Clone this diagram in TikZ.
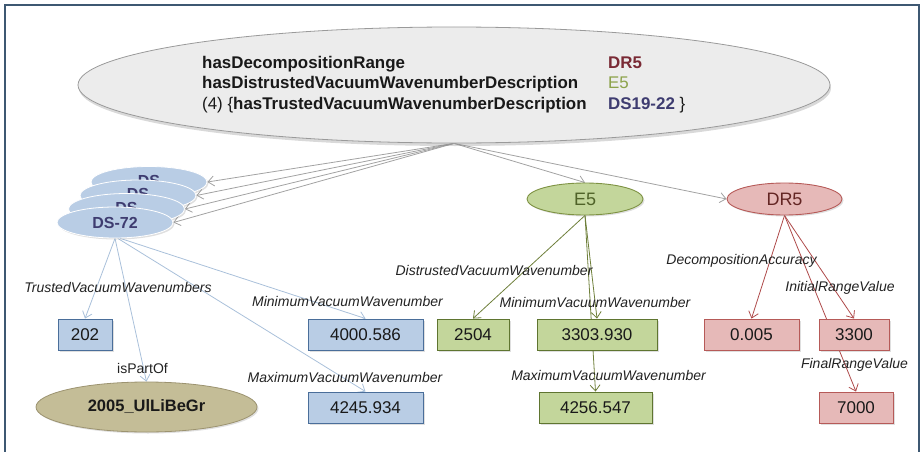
\documentclass[tikz,border=0pt]{standalone}
\usepackage{fontspec}
\setmainfont{Liberation Sans}
\usetikzlibrary{shapes.geometric,arrows.meta,shadows}
\definecolor{framec}{HTML}{3E5872}
\definecolor{mainfill}{HTML}{ECECEC}
\definecolor{mainline}{HTML}{9A9A9A}
\definecolor{drred}{HTML}{7A2A35}
\definecolor{egreen}{HTML}{8CA24A}
\definecolor{dsblue}{HTML}{3E3C70}
\definecolor{bluefill}{HTML}{B9CDE5}
\definecolor{blueline}{HTML}{4A6E9A}
\definecolor{blueedge}{HTML}{A9C0DA}
\definecolor{greenfill}{HTML}{C3D69B}
\definecolor{greenline}{HTML}{5F7530}
\definecolor{greenedge}{HTML}{6E7F3A}
\definecolor{greentext}{HTML}{4F6228}
\definecolor{pinkfill}{HTML}{E6B9B8}
\definecolor{pinkline}{HTML}{B65A58}
\definecolor{pinkedge}{HTML}{AE4A4A}
\definecolor{pinktext}{HTML}{632523}
\definecolor{olivefill}{HTML}{C4BD97}
\definecolor{oliveline}{HTML}{9C9370}
\definecolor{graye}{HTML}{A2A2A2}
\definecolor{labtext}{HTML}{222222}
\pgfdeclarelayer{edgelayer}
\pgfsetlayers{edgelayer,main}
\begin{document}
\begin{tikzpicture}[x=1pt,y=-1pt,
  shad/.style={drop shadow={opacity=0.25,shadow xshift=1.5pt,shadow yshift=-1.5pt}},
  box/.style={rectangle, minimum height=31pt, inner sep=0pt, text=black!90, font=\fontsize{17}{20}\selectfont, shad},
  bluebox/.style={box, fill=bluefill, draw=blueline, line width=0.9pt},
  greenbox/.style={box, fill=greenfill, draw=greenline, line width=0.9pt},
  pinkbox/.style={box, fill=pinkfill, draw=pinkline, line width=0.9pt},
  dsell/.style={ellipse, minimum width=116pt, minimum height=31pt, inner sep=0pt, fill=bluefill, draw=white, line width=0.8pt, text=dsblue, font=\fontsize{16}{18}\selectfont\bfseries, shad},
  mtext/.style={inner sep=0pt, font=\fontsize{16.9}{20}\selectfont\bfseries, text=black!90},
  lab/.style={inner sep=0pt, font=\fontsize{14}{16}\selectfont\itshape, text=labtext},
  arr/.style={-{Straight Barb[length=6pt,width=10pt]}, line width=0.8pt},
]
\useasboundingbox (0,0) rectangle (923,452);
\draw[framec, line width=2pt] (5,452) -- (5,5) -- (919,5) -- (919,452);

% main ellipse
\node[ellipse, minimum width=752pt, minimum height=116pt, fill=mainfill, draw=mainline, line width=0.8pt,
  drop shadow={opacity=0.3,shadow xshift=1pt,shadow yshift=-3pt}] (main) at (454,85) {};
\node[mtext, anchor=base west] (l1) at (202,68) {hasDecompositionRange};
\node[mtext, anchor=base west] (l2) at (202,88.5) {hasDistrustedVacuumWavenumberDescription};
\node[mtext, anchor=base west] (l3) at (202,109) {\mdseries(4) \{\bfseries hasTrustedVacuumWavenumberDescription};
\node[mtext, anchor=base west, text=drred] (r1) at (608,68) {DR5};
\node[mtext, anchor=base west, text=egreen, font=\fontsize{16.9}{20}\selectfont] (r2) at (608,88.5) {E5};
\node[mtext, anchor=base west] (r3) at (608,109) {\textcolor{dsblue}{DS19-22} \mdseries\}};

% DS stack
\node[dsell] (ds1) at (149,182) {\raisebox{3pt}{DS}};
\node[dsell] (ds2) at (138,195.5) {\raisebox{3pt}{DS}};
\node[dsell] (ds3) at (126.5,209) {\raisebox{3pt}{DS}};
\node[dsell] (ds4) at (115,222.5) {DS-72};

% E5, DR5
\node[ellipse, minimum width=116pt, minimum height=32pt, inner sep=0pt, fill=greenfill, draw=egreen!90!black, line width=0.9pt,
  text=greentext, font=\fontsize{18}{20}\selectfont, shad] (e5) at (585,199) {E5};
\node[ellipse, minimum width=115pt, minimum height=32pt, inner sep=0pt, fill=pinkfill, draw=pinkline, line width=0.9pt,
  text=pinktext, font=\fontsize{18}{20}\selectfont, shad] (dr5) at (784.5,199) {DR5};

% value boxes
\node[bluebox, minimum width=54pt] (b202) at (85,334.5) {202};
\node[bluebox, minimum width=115pt] (b4000) at (365.5,334.5) {4000.586};
\node[bluebox, minimum width=115pt] (b4245) at (365.5,407.5) {4245.934};
\node[ellipse, minimum width=221pt, minimum height=50pt, inner sep=0pt, fill=olivefill, draw=oliveline, line width=0.8pt,
  text=black!90, font=\fontsize{16.5}{20}\selectfont\bfseries, shad] (src) at (146.5,407) {2005\_UlLiBeGr};
\node[greenbox, minimum width=72pt] (g2504) at (473,334.5) {2504};
\node[greenbox, minimum width=120pt] (g3303) at (597,334.5) {3303.930};
\node[greenbox, minimum width=113pt] (g4256) at (595.5,407.5) {4256.547};
\node[pinkbox, minimum width=95pt] (p0005) at (751.5,334.5) {0.005};
\node[pinkbox, minimum width=70pt] (p3300) at (854,334.5) {3300};
\node[pinkbox, minimum width=74pt] (p7000) at (856,407.5) {7000};

% labels
\node[lab] (t1) at (118,287) {TrustedVacuumWavenumbers};
\node[lab, font=\fontsize{14}{16}\selectfont] (t2) at (142.5,368) {isPartOf};
\node[lab] (t3) at (347.5,301) {MinimumVacuumWavenumber};
\node[lab] (t4) at (345,377) {MaximumVacuumWavenumber};
\node[lab] (t5) at (494,270) {DistrustedVacuumWavenumber};
\node[lab] (t6) at (595,302) {MinimumVacuumWavenumber};
\node[lab] (t7) at (608.5,375) {MaximumVacuumWavenumber};
\node[lab] (t8) at (741.5,261) {DecompositionAccuracy};
\node[lab] (t9) at (840,288) {InitialRangeValue};
\node[lab] (t10) at (854.5,365) {FinalRangeValue};

\begin{pgfonlayer}{edgelayer}
\draw[arr, graye] (main.south) -- (ds1.east);
\draw[arr, graye] (main.south) -- (ds2.east);
\draw[arr, graye] (main.south) -- (ds3.east);
\draw[arr, graye] (main.south) -- (ds4.east);
\draw[arr, graye] (main.south) -- (e5.north);
\draw[arr, graye] (main.south) -- (dr5.west);
\draw[arr, blueedge] (ds4.south) -- (b202.north);
\draw[arr, blueedge] (ds4.south) -- (src.north);
\draw[arr, blueedge] (ds4.-72) -- (b4000.north);
\draw[arr, blueedge] (ds4.-80) -- (b4245.north);
\draw[arr, greenedge] (e5.south) -- (g2504.north);
\draw[arr, greenedge] (e5.south) -- (g3303.north);
\draw[arr, greenedge] (e5.south) -- (g4256.north);
\draw[arr, pinkedge] (dr5.south) -- (p0005.north);
\draw[arr, pinkedge] (dr5.south) -- (p3300.north);
\draw[arr, pinkedge] (dr5.south) -- (p7000.north);
\end{pgfonlayer}
\end{tikzpicture}
\end{document}
